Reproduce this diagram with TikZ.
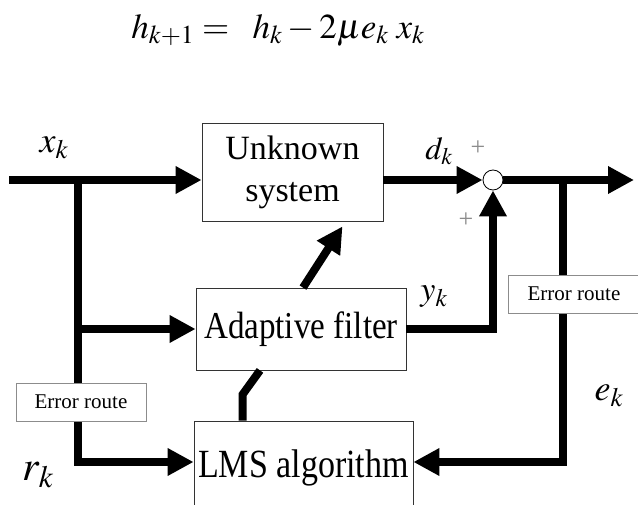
\documentclass[tikz,border=0pt]{standalone}
\usepackage{mathptmx}
\usepackage{fontspec}
\setmainfont{Liberation Serif}
\usetikzlibrary{arrows.meta, positioning, calc}

\begin{document}
\begin{tikzpicture}[x=1pt, y=-1pt,
    blk/.style={draw=black!80, line width=0.8pt, fill=white, inner sep=0pt},
    route/.style={draw=black!45, line width=0.8pt, fill=white, minimum width=130pt, minimum height=38pt, inner sep=0pt, font=\fontsize{21}{24}\selectfont},
    sig/.style={line width=8pt},
    arr/.style={sig, -{Triangle[length=26pt, width=26pt]}},
    lbl/.style={inner sep=0pt},
    pm/.style={text=black!45, font=\fontsize{26}{30}\selectfont, inner sep=0pt}]
    \useasboundingbox (0,0) rectangle (638,505);
    \clip (0,0) rectangle (638,505);

    % 公式
    \node[lbl, font=\fontsize{35}{40}\selectfont] (eq) at (278,30) {$h_{k+1} =\;\; h_k - 2\mu e_k\;x_k$};

    % 方框
    \node[blk, minimum width=181pt, minimum height=98pt, align=center, font=\fontsize{34}{42}\selectfont] (unk) at (292.5,172) {Unknown\\system};
    \node[blk, minimum width=210pt, minimum height=82pt, font=\fontsize{38}{42}\selectfont] (ada) at (301,329) {\scalebox{0.87}[1]{Adaptive filter}};
    \node[blk, minimum width=219pt, minimum height=94pt, font=\fontsize{40}{44}\selectfont] (lms) at (303.5,468) {\scalebox{0.85}[1]{LMS algorithm}};
    \node[circle, draw, line width=0.8pt, fill=white, minimum size=20pt, inner sep=0pt] (sum) at (493,180) {};

    % 连线
    \coordinate (in) at (9,180);
    \coordinate (out) at (634,180);
    \coordinate (bx) at (78,180);
    \coordinate (by) at (78,462);
    \coordinate (ex) at (563,180);
    \coordinate (ey) at (563,462);
    \draw[arr] (in) -- (in -| unk.west);
    \draw[arr] (unk.east |- sum.west) -- (sum.west);
    \draw[arr] (sum.east) -- (out);
    \draw[arr] (bx) -- (by) -- (by -| lms.west);
    \draw[arr] (bx |- ada.west) -- (ada.west);
    \draw[arr] (ex) -- (ey) -- (ey -| lms.east);
    \draw[arr] (ada.east) -| (sum.south);
    \draw[arr] ([xshift=2pt]ada.north) -- ([xshift=50pt, yshift=-5pt]unk.south);
    \draw[sig] ([xshift=-61pt]lms.north) -- ++(0,-26) -- ([xshift=-41pt]ada.south);

    % 误差路径
    \node[route] (err1) at (81,402) {Error route};
    \node[route, minimum width=132pt] (err2) at (574,294) {Error route};

    % 信号标注
    \node[lbl, font=\fontsize{36}{40}\selectfont] (xk) at (54,148) {$x_k$};
    \node[lbl, font=\fontsize{32}{36}\selectfont] (dk) at (439,151) {$d_k$};
    \node[lbl, font=\fontsize{34}{40}\selectfont] (yk) at (434,297) {$y_k$};
    \node[lbl, font=\fontsize{36}{40}\selectfont] (ek) at (609,396) {$e_k$};
    \node[lbl, font=\fontsize{42}{46}\selectfont] (rk) at (38,475) {$r_k$};
    \node[pm] (p1) at (478,148) {+};
    \node[pm] (p2) at (466,220) {+};
\end{tikzpicture}
\end{document}
